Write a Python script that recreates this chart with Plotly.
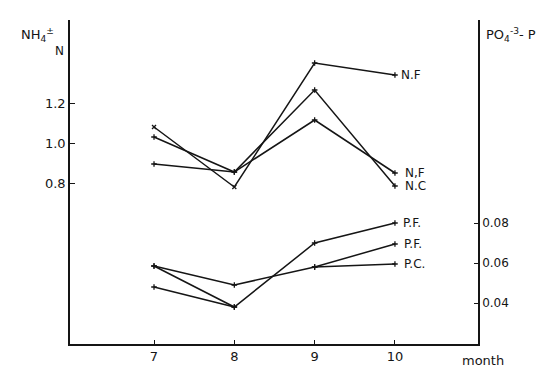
import plotly.graph_objects as go

months = [7, 8, 9, 10]

# NH4+ - N (left axis)
nh_NF_top = [1.08, 0.78, 1.40, 1.34]
nh_NC = [1.03, 0.855, 1.265, 0.785]
nh_NF_low = [0.895, 0.855, 1.115, 0.85]

# PO4-3 - P (right axis)
p_PF_top = [0.0585, 0.038, 0.070, 0.080]
p_PF_mid = [0.0585, 0.049, 0.058, 0.0695]
p_PC = [0.048, 0.038, 0.058, 0.0595]

left_ticks = [0.8, 1.0, 1.2]
left_ticktext = ["0.8", "1.0", "1.2"]
right_ticks = [0.04, 0.06, 0.08]
right_ticktext = ["0.04", "0.06", "0.08"]

INK = "#151515"
FONT = "DejaVu Sans"

fig = go.Figure()

def add(x, y, sym, axis="y"):
    fig.add_trace(go.Scatter(
        x=x, y=y, mode="lines+markers", yaxis=axis,
        line=dict(color=INK, width=1.5),
        marker=dict(symbol=sym, size=4, color=INK, line=dict(color=INK, width=1.3)),
        connectgaps=False, showlegend=False, hoverinfo="skip"))

add(months, nh_NF_top, ["x-thin", "x-thin", "cross-thin", "cross-thin"])
add(months, nh_NC, "cross-thin")
add(months, nh_NF_low, "cross-thin")

add(months, p_PF_top, "cross-thin", "y2")
add(months, p_PF_mid, "cross-thin", "y2")
# P.C. drawn in two pieces (no 8->9 segment in the original drawing)
add(months[:2] + [None] + months[2:], p_PC[:2] + [None] + p_PC[2:], "cross-thin", "y2")

anns = []
def lab(x, y, text, axis="y", dx=4):
    anns.append(dict(x=x, y=y, xref="x", yref=axis, text=text, showarrow=False,
                     xanchor="left", yanchor="middle", xshift=dx,
                     font=dict(family=FONT, size=12, color=INK)))

lab(10, nh_NF_top[3], "N.F")
lab(10, nh_NF_low[3], "N,F", dx=8)
lab(10, nh_NC[3], "N.C", dx=8)
lab(10, p_PF_top[3], "P.F.", "y2", dx=6)
lab(10, p_PF_mid[3], "P.F.", "y2", dx=7)
lab(10, p_PC[3], "P.C.", "y2", dx=7)

def note(x, y, text, size=12):
    anns.append(dict(x=x, y=y, xref="paper", yref="paper", xanchor="left", yanchor="middle",
                     text=text, showarrow=False, font=dict(family=FONT, size=size, color=INK)))

note(-0.125, 0.955, "NH<sub>4</sub><sup>±</sup>", 13)
note(-0.042, 0.905, "N", 12)
note(1.015, 0.955, "PO<sub>4</sub><sup>-3</sup>- P", 13)
note(0.955, -0.05, "month", 13)

fig.update_layout(
    width=550, height=384,
    margin=dict(l=70, r=72, t=20, b=40),
    paper_bgcolor="white", plot_bgcolor="white",
    font=dict(family=FONT, size=12, color=INK),
    annotations=anns,
    xaxis=dict(range=[5.954, 11.034], tickvals=months, ticktext=[str(m) for m in months],
               showgrid=False, zeroline=False, showline=True, linecolor=INK, linewidth=1.5,
               ticks="inside", ticklen=4, tickcolor=INK, tickfont=dict(size=13)),
    yaxis=dict(range=[-0.005, 1.615], tickvals=left_ticks, ticktext=left_ticktext,
               showgrid=False, zeroline=False, showline=True, linecolor=INK, linewidth=1.5,
               ticks="inside", ticklen=5, tickcolor=INK, tickfont=dict(size=13)),
    yaxis2=dict(range=[0.0195, 0.1815], tickvals=right_ticks, ticktext=right_ticktext,
                overlaying="y", side="right",
                showgrid=False, zeroline=False, showline=True, linecolor=INK, linewidth=1.5,
                ticks="inside", ticklen=4, tickcolor=INK, tickfont=dict(size=12)),
)

fig.write_html("out.html")
